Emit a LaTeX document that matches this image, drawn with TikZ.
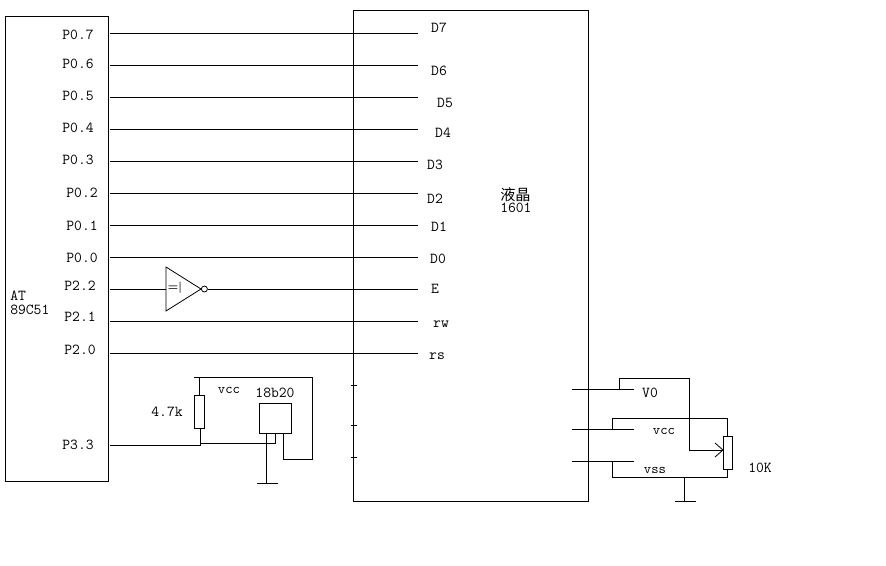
\documentclass[tikz,border=0pt]{standalone}
\usepackage{fontspec}
\newfontfamily\cjkfont{Noto Sans CJK SC}
\tikzset{
  wire/.style={line width=0.75pt},
  chipbox/.style={draw,line width=0.75pt,minimum width=0,inner sep=0},
  pinlabel/.style={inner sep=0,font=\fontsize{11.4}{12}\selectfont\ttfamily},
  thinlabel/.style={inner sep=0,font=\fontsize{10.5}{12}\selectfont\ttfamily},
}
\begin{document}
\begin{tikzpicture}[x=0.75pt,y=-0.75pt]
\useasboundingbox (0,0) rectangle (886,565);
% boxes
\draw[wire] (5,16) rectangle (108,481);
\draw[wire] (353,10) rectangle (588,501);
% data and control lines
\foreach \name/\y/\lx/\ly/\txt/\rx/\ry/\rtxt in {
  a/33/78/35/P0.7/439/28/D7,
  b/65/78/64/P0.6/439/71/D6,
  c/97/78/96/P0.5/445/103/D5,
  d/129/78/128/P0.4/443/133/D4,
  e/161/78/160/P0.3/435/165/D3,
  f/193/82/193/P0.2/435/199/D2,
  g/225/82/226/P0.1/439/227/D1,
  h/257/82/258/P0.0/438/259/D0,
  j/321/80/317/P2.1/441/324/rw,
  k/353/80/350/P2.0/437/356/rs}{
  \node[pinlabel] at (\lx,\ly) (left\name) {\txt};
  \node[pinlabel] at (\rx,\ry) (right\name) {\rtxt};
  \coordinate (from\name) at (110,\y);
  \coordinate (to\name) at (418,\y);
  \draw[wire] (from\name) -- (to\name);
}
\node[pinlabel] at (80,286) (leftp22) {P2.2};
\node[pinlabel] at (435,289) (righte) {E};
\node[pinlabel] at (78,445) (leftp33) {P3.3};
\node[pinlabel,align=left,anchor=west] at (10,303) (mcu) {AT\\[-2pt]89C51};
\node[pinlabel,align=left,anchor=west] at (500,200) (lcd) {{\cjkfont 液晶}\\[-3pt]1601};
% inverter
\coordinate (invtop) at (166,267);
\coordinate (invbot) at (166,311);
\coordinate (invtip) at (201,289);
\draw[line width=0.6pt] (invtop) -- (invtip) -- (invbot) -- cycle;
\node[draw,circle,line width=0.6pt,minimum size=4.5pt,inner sep=0,anchor=west] at (invtip) (bubble) {};
\node[inner sep=0,font=\fontsize{8.5}{9}\selectfont\bfseries] at (175,288) (invlabel) {=|};
\coordinate (invin) at (166,289);
\coordinate (fromp22) at (110,289);
\coordinate (toe) at (418,289);
\draw[wire] (fromp22) -- (invin);
\draw[wire] (bubble) -- (toe);
% 18b20
\node[chipbox,minimum width=24pt,minimum height=22.5pt] at (275,418) (sensor) {};
\node[chipbox,minimum width=7.5pt,minimum height=24.75pt] at (199,411.5) (pullup) {};
\node[pinlabel] at (275,393) (sensorlabel) {18b20};
\node[thinlabel] at (229,390) (vcca) {vcc};
\node[pinlabel] at (167,412) (pulluplabel) {4.7k};
\coordinate (gndtop) at (266,433);
\coordinate (gnda) at (266,483);
\coordinate (gndal) at (257,483);
\coordinate (gndar) at (278,483);
\draw[wire] (pullup.north) -- (199,377) -- (194,377);
\draw[wire] (199,377) -- (312,377) -- (312,459) -- (283,459) -- (283,433);
\draw[wire] (200.5,428) -- (200.5,445) -- (110,445);
\draw[wire] (200.5,443) -- (275,443) -- (275,433);
\draw[wire] (gndtop) -- (gnda);
\draw[wire] (gndal) -- (gndar);
% ticks on the lcd
\foreach \y in {385,425,457}{
  \draw[wire] (351,\y) -- (357,\y);
}
% contrast pot
\node[chipbox,minimum width=6.75pt,minimum height=24.75pt] at (727.5,452.5) (pot) {};
\node[pinlabel] at (760,468) (potlabel) {10K};
\node[pinlabel] at (650,393) (vzero) {V0};
\node[thinlabel] at (664,431) (vccb) {vcc};
\node[thinlabel] at (655,470) (vss) {vss};
\coordinate (gndb) at (684,501);
\coordinate (wiper) at (723,450);
\draw[wire] (572,389) -- (634,389);
\draw[wire] (572,429) -- (634,429);
\draw[wire] (572,461) -- (634,461);
\draw[wire] (619,389) -- (619,378) -- (689,378) -- (689,450) -- (wiper);
\draw[line width=0.6pt] (715,443) -- (wiper) -- (715,457);
\draw[wire] (612,429) -- (612,418) -- (727,418) -- (727,436);
\draw[wire] (612,461) -- (612,477) -- (727,477) -- (727,469);
\draw[wire] (684,477) -- (gndb);
\draw[wire] (675,501) -- (696,501);
\end{tikzpicture}
\end{document}
